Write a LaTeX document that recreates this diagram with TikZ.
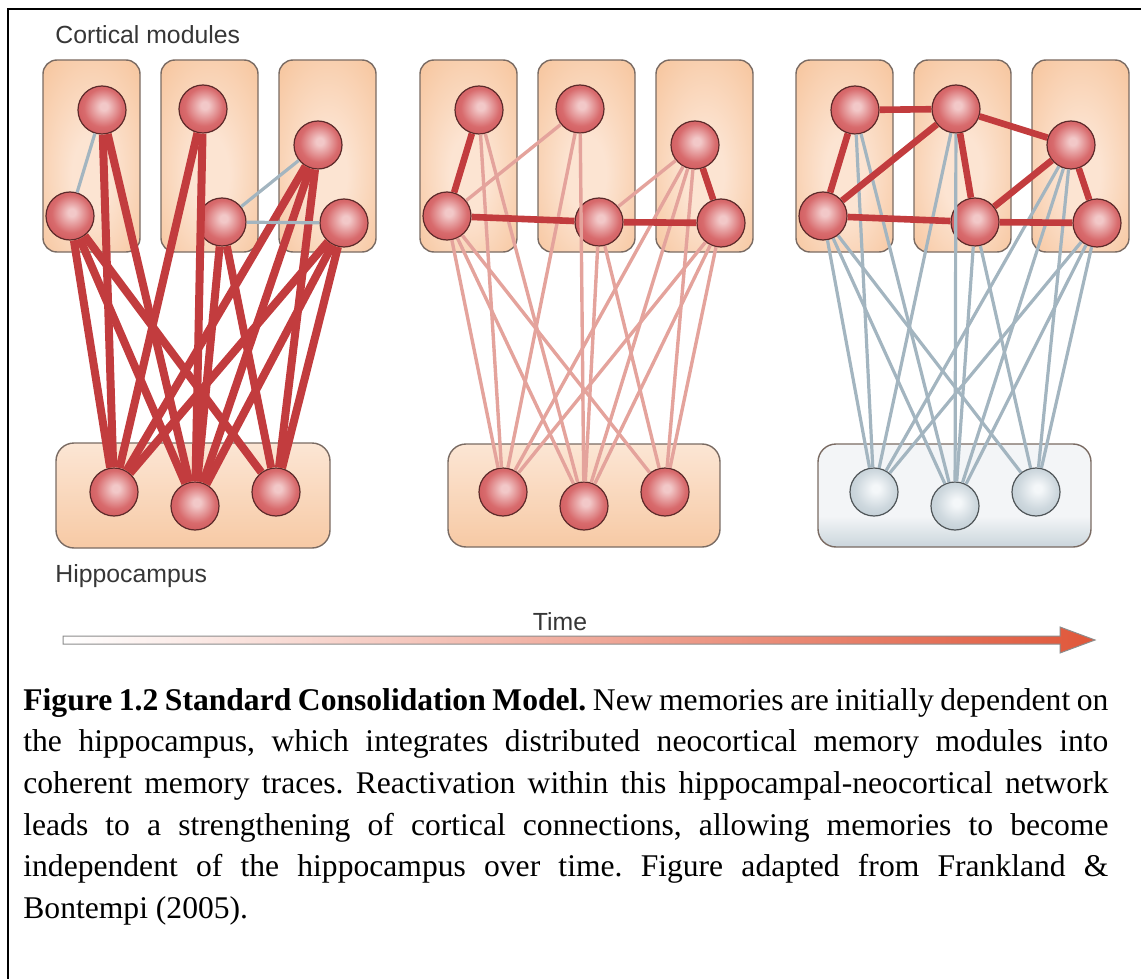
\documentclass[tikz,border=0pt]{standalone}
\usepackage{fontspec}
\setmainfont{Liberation Serif}
\newfontfamily\labelfont{Liberation Sans}

\definecolor{modlight}{HTML}{FCE4D2}
\definecolor{moddark}{HTML}{F5BC8E}
\definecolor{hippotop}{HTML}{FEF4EC}
\definecolor{boxline}{HTML}{7A6B63}
\definecolor{cellred}{HTML}{BC3E43}
\definecolor{celldeep}{HTML}{C94A4E}
\definecolor{cellmid}{HTML}{D86B6D}
\definecolor{cellhl}{HTML}{F2C8C8}
\definecolor{celline}{HTML}{5C2A2A}
\definecolor{cellgrey}{HTML}{A2B3BC}
\definecolor{greydeep}{HTML}{B4C3CB}
\definecolor{greymid}{HTML}{CED8DE}
\definecolor{greyhl}{HTML}{F4F7F9}
\definecolor{greyline}{HTML}{4F5558}
\definecolor{greytop}{HTML}{F3F5F7}
\definecolor{hippogrey}{HTML}{AEBFC9}
\definecolor{linkred}{HTML}{C23C3E}
\definecolor{linkpink}{HTML}{E4A39C}
\definecolor{linkgrey}{HTML}{A3B5C0}
\definecolor{arrowred}{HTML}{E0573A}
\definecolor{labelgrey}{HTML}{363636}

\pgfdeclareradialshading{redsphere}{\pgfpoint{2bp}{4bp}}{%
  color(0bp)=(cellhl); color(4bp)=(cellhl); color(20bp)=(cellmid); color(38bp)=(celldeep); color(50bp)=(cellred)}
\pgfdeclareradialshading{greysphere}{\pgfpoint{2bp}{4bp}}{%
  color(0bp)=(greyhl); color(4bp)=(greyhl); color(20bp)=(greymid); color(38bp)=(greydeep); color(50bp)=(cellgrey)}
\pgfdeclareradialshading{moduleglow}{\pgfpoint{0bp}{-6bp}}{%
  color(0bp)=(modlight); color(10bp)=(modlight); color(44bp)=(moddark); color(50bp)=(moddark)}
\pgfdeclareverticalshading{peachfloor}{100bp}{%
  color(0bp)=(moddark); color(25bp)=(moddark!80!white); color(100bp)=(hippotop)}
\pgfdeclareverticalshading{greyfloor}{100bp}{%
  color(0bp)=(hippogrey); color(22bp)=(hippogrey!75!white); color(40bp)=(greytop); color(100bp)=(greytop)}

\tikzset{
  module/.style={draw=boxline, line width=0.7pt, rounded corners=7pt, shading=moduleglow},
  hippobox/.style={draw=boxline, line width=0.7pt, rounded corners=9pt, shading=peachfloor},
  greybox/.style={hippobox, shading=greyfloor},
  redcell/.style={circle, draw=celline, line width=0.6pt, minimum size=24pt, inner sep=0pt, shading=redsphere},
  greycell/.style={redcell, draw=greyline, shading=greysphere},
  strong/.style={linkred, line width=4pt},
  bond/.style={linkred, line width=3.3pt},
  faint/.style={linkpink, line width=1.7pt},
  fade/.style={linkgrey, line width=1.6pt},
  tag/.style={font=\labelfont\fontsize{12.4}{14}\selectfont, text=labelgrey, inner sep=0pt},
}

\begin{document}
\begin{tikzpicture}[x=0.5pt,y=-0.5pt]
\useasboundingbox (0,0) rectangle (1141,979);
%% frame
\draw[line width=1pt] (8,979) -- (8,9) -- (1141,9);

%% cortical modules and hippocampus
\foreach \dx in {0,377,753}{
  \draw[module] (43+\dx,60) rectangle (140+\dx,252);
  \draw[module] (161+\dx,60) rectangle (258+\dx,252);
  \draw[module] (279+\dx,60) rectangle (376+\dx,252);
}
\draw[hippobox] (56,443) rectangle (330,548);
\draw[hippobox] (448,444) rectangle (720,547);
\draw[greybox] (818,444) rectangle (1091,547);

%% neurons
\foreach \p/\dx in {1/0, 2/377, 3/753}{
  \node[redcell] (A\p) at (102+\dx,110) {};
  \node[redcell] (B\p) at (70+\dx,216) {};
  \node[redcell] (C\p) at (203+\dx,109) {};
  \node[redcell] (D\p) at (222+\dx,222) {};
  \node[redcell] (E\p) at (318+\dx,145) {};
  \node[redcell] (F\p) at (344+\dx,223) {};
}
\foreach \p/\x/\s in {1/114/redcell, 2/503/redcell, 3/874/greycell}{
  \node[\s] (hip\p-1) at (\x,492) {};
  \node[\s] (hip\p-2) at (\x+81,506) {};
  \node[\s] (hip\p-3) at (\x+162,492) {};
}

%% hippocampal-cortical links
\foreach \p/\s in {1/strong, 2/faint, 3/fade}
  \foreach \c/\h in {A/1, A/2, B/1, B/2, B/3, C/1, C/2, D/2, D/3, E/1, E/2, E/3, F/1, F/2, F/3}
    \draw[\s] (\c\p) -- (hip\p-\h);

%% cortico-cortical links
\draw[fade] (A1) -- (B1);
\draw[fade] (D1) -- (E1);
\draw[fade] (D1) -- (F1);
\draw[faint] (B2) -- (C2);
\draw[faint] (D2) -- (E2);
\foreach \u/\v in {A/B, B/D, D/F, E/F}
  \draw[bond] (\u2) -- (\v2);
\foreach \u/\v in {A/B, A/C, B/C, B/D, C/D, C/E, D/E, D/F, E/F}
  \draw[bond] (\u3) -- (\v3);

%% labels
\node[tag, anchor=base west] (cortex) at (55,44) {Cortical modules};
\node[tag, anchor=base west] (hippo) at (55,582) {Hippocampus};
\node[tag, anchor=base] (time) at (560,630) {Time};

%% time arrow
\coordinate (t0) at (63,640);
\coordinate (t1) at (1095,640);
\path[draw=black!45, line width=0.5pt, left color=white, right color=arrowred]
  (t0) ++(0,-4) -- (1060,636) -- (1060,627) -- (t1) -- (1060,653) -- (1060,644) -- (63,644) -- cycle;

%% caption
\node[anchor=north west, inner sep=0pt, text width=542.5pt, align=justify,
      font=\fontsize{15.8}{20.8}\selectfont] (caption) at (23,688)
  {\frenchspacing\hyphenpenalty=10000 \exhyphenpenalty=10000 \tolerance=9999
   \textbf{Figure 1.2 Standard Consolidation Model.} New memories are initially dependent on\linebreak
   the hippocampus, which integrates distributed neocortical memory modules into\linebreak
   coherent memory traces. Reactivation within this hippocampal-neocortical network\linebreak
   leads to a strengthening of cortical connections, allowing memories to become\linebreak
   independent of the hippocampus over time. Figure adapted from Frankland \&\linebreak
   Bontempi (2005).};
\end{tikzpicture}
\end{document}
